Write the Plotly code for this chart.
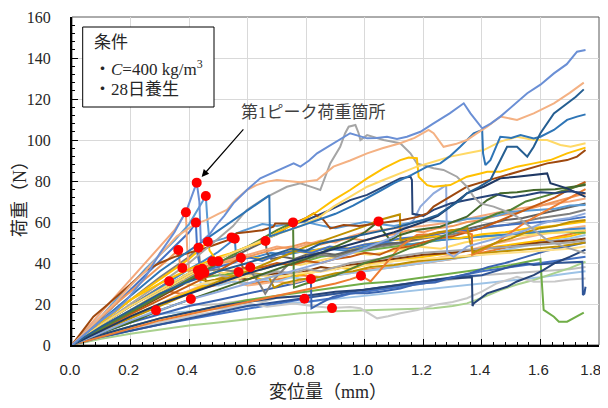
import plotly.graph_objects as go

# ---------------- data: (displacement mm, load N) ----------------
S_A = [(0,0),(0.05,6),(0.1,12),(0.15,17),(0.187,22),(0.25,33),(0.3,44.7),(0.35,55),(0.392,65.9),(0.426,79.2),(0.435,70),(0.44,50.4),(0.47,54),(0.49,58),(0.52,63),(0.551,69.1),(0.6,76),(0.643,81.3),(0.7,85),(0.757,88.6),(0.78,87),(0.81,90),(0.837,93.5),(0.893,98.4),(0.95,103.3),(1.008,100.8),(1.04,101),(1.076,101.6),(1.11,100.5),(1.144,101.6),(1.19,104),(1.235,108.1),(1.29,113),(1.338,117.9),(1.361,113),(1.401,105.7),(1.43,108),(1.463,111.4),(1.51,117),(1.555,122.8),(1.6,127),(1.646,132.5),(1.69,137),(1.725,143.1),(1.754,143.9)]
S_B = [(0,0),(0.05,7),(0.1,14),(0.15,21),(0.2,29),(0.25,36),(0.3,44),(0.358,53),(0.42,59),(0.46,61),(0.5,64),(0.529,65.9),(0.56,71),(0.597,75.6),(0.63,78),(0.666,79.7),(0.7,80.5),(0.734,80.1),(0.78,79.4),(0.837,80.5),(0.893,87),(0.95,90),(1.008,93.5),(1.06,96),(1.121,98.4),(1.17,101),(1.218,104.9),(1.235,103.3),(1.269,96.7),(1.31,98),(1.349,100),(1.38,103),(1.418,106.5),(1.463,111.4),(1.52,109.8),(1.577,113),(1.646,117.9),(1.7,123),(1.748,128)]
S_C = [(0,0),(0.05,4.5),(0.1,9),(0.2,17),(0.3,25),(0.4,31),(0.5,36),(0.6,40),(0.7,44.5),(0.75,47),(0.8,46),(0.85,49.5),(0.9,51),(1.0,54),(1.1,57),(1.2,61),(1.25,63.5),(1.292,67.5),(1.32,70),(1.349,74),(1.39,77),(1.429,80.5),(1.452,87),(1.486,96.7),(1.52,96.7),(1.555,91.9),(1.577,96.7),(1.6,103.3),(1.646,113),(1.691,117.9),(1.72,121),(1.748,124.7)]
S_D = [(0,0),(0.05,6),(0.1,12),(0.15,18),(0.2,24),(0.25,30),(0.3,36),(0.35,41),(0.4,46),(0.45,51),(0.5,56),(0.54,60),(0.6,66),(0.64,70),(0.674,73),(0.676,53),(0.72,55),(0.78,58),(0.84,61),(0.9,64),(0.96,68),(1.0,71),(1.05,75),(1.1,79),(1.16,83),(1.213,87),(1.258,88.6),(1.29,92),(1.326,96.7),(1.372,103.3),(1.401,104.9),(1.404,93.5),(1.412,87.8),(1.429,90.2),(1.463,101.6),(1.5,101),(1.532,102.4),(1.577,100.8),(1.6,101.6),(1.646,104.9),(1.691,109.8),(1.725,111.4),(1.754,112.5)]
S_E = [(0,0),(0.05,5),(0.1,10),(0.2,19),(0.3,27),(0.4,35),(0.5,42),(0.6,48),(0.7,54),(0.78,58),(0.848,62.6),(0.893,67.5),(0.95,72.3),(1.008,77.2),(1.064,80.5),(1.121,83.7),(1.178,87),(1.235,89.4),(1.292,91.9),(1.349,93.5),(1.406,95.1),(1.463,99.2),(1.52,101.6),(1.577,100),(1.623,100),(1.668,97.6),(1.703,96.7),(1.754,98.4)]
S_F = [(0,0),(0.05,6),(0.1,12),(0.2,22),(0.3,30),(0.4,37),(0.5,43),(0.54,44.7),(0.6,48),(0.654,50.4),(0.7,55),(0.768,59.4),(0.837,65),(0.893,70.7),(0.95,75.6),(1.008,81.3),(1.064,86.2),(1.121,90.2),(1.15,91.5),(1.178,91.1),(1.184,82.1),(1.213,78),(1.235,77.2),(1.292,78),(1.349,82.1),(1.395,83.7),(1.418,84.5),(1.463,84.5),(1.52,87),(1.577,88.6),(1.634,90.2),(1.691,93.5),(1.754,96.3)]
S_G = [(0,0),(0.04,7.5),(0.073,13.8),(0.12,19.5),(0.164,25.2),(0.21,31),(0.255,36.6),(0.3,40),(0.35,43),(0.4,45),(0.45,47),(0.5,49.5),(0.53,51),(0.545,52.5),(0.563,54.5),(0.609,55.3),(0.65,56),(0.688,57.7),(0.694,59.3),(0.757,59.3),(0.8,62),(0.825,64.2),(0.859,61),(0.882,56.9),(0.928,58.5),(0.98,58),(1.03,59),(1.08,60),(1.13,61),(1.18,62.5),(1.213,64.2),(1.235,67.5),(1.292,72.3),(1.349,77.2),(1.406,79.7),(1.463,82.1),(1.52,84.5),(1.577,87),(1.623,88.6),(1.657,89.4),(1.691,90.2),(1.725,91.9),(1.754,95.1)]
S_H = [(0,0),(0.05,5),(0.1,10),(0.2,20),(0.3,30),(0.4,40),(0.5,52),(0.55,58),(0.597,65.9),(0.666,72.3),(0.734,77.2),(0.78,78.9),(0.82,77),(0.848,75.6),(0.882,88.6),(0.916,96.7),(0.933,103.3),(0.945,106.5),(0.968,107.3),(0.979,103.3),(0.985,100),(1.008,102.4),(1.064,100),(1.121,98.4),(1.156,93.5),(1.178,88.6),(1.235,86.2),(1.269,85.4),(1.315,82.1),(1.349,77.2),(1.372,72.3),(1.395,69.1),(1.44,67.5),(1.486,65),(1.52,62.6),(1.577,56.1),(1.623,51.2),(1.68,48),(1.754,44.7)]
S_I = [(0,0),(0.05,5),(0.1,10),(0.2,19),(0.3,27),(0.4,35),(0.5,42),(0.6,48),(0.7,54),(0.745,58.5),(0.802,61),(0.882,65.9),(0.95,70.7),(1.008,73.2),(1.064,77.2),(1.121,81.3),(1.156,82.1),(1.161,80.5),(1.163,64),(1.2,63),(1.235,65.9),(1.292,69),(1.349,70.7),(1.4,72),(1.45,73.5),(1.5,72),(1.55,73),(1.6,74.5),(1.65,74),(1.7,75),(1.754,74)]
S_J = [(0,0),(0.1,7),(0.2,14),(0.3,20),(0.4,25),(0.5,30),(0.6,35),(0.7,39),(0.8,43),(0.9,47),(1.0,51),(1.1,55),(1.2,60),(1.25,63),(1.292,67.5),(1.349,74),(1.406,77.2),(1.463,81.3),(1.52,82.1),(1.577,82.9),(1.623,83.7),(1.634,78.9),(1.691,76.4),(1.754,72.3)]
S_K = [(0,0),(0.1,6),(0.2,12),(0.3,17),(0.4,22),(0.5,26),(0.6,30),(0.7,34),(0.8,38),(0.9,42),(1.0,47),(1.1,53),(1.167,61),(1.19,67.5),(1.235,74),(1.269,77.2),(1.278,78),(1.281,45),(1.304,43),(1.349,48),(1.4,50),(1.45,52),(1.5,54),(1.55,56),(1.6,59),(1.65,61),(1.7,62),(1.754,64.2)]
S_L = [(0,0),(0.1,5),(0.2,9),(0.3,13),(0.4,16),(0.5,19),(0.6,22),(0.7,24),(0.8,26),(0.9,28),(1.0,30),(1.1,31),(1.2,33),(1.3,35),(1.4,37),(1.45,38),(1.5,39),(1.55,40.5),(1.6,42),(1.605,30),(1.611,17.1),(1.646,13.8),(1.663,11.4),(1.691,11.4),(1.725,13.8),(1.748,15.8)]
S_M = [(0,0),(0.1,3),(0.2,5.5),(0.3,7.5),(0.4,9.5),(0.5,11),(0.6,12.5),(0.7,14),(0.78,15.5),(0.9,16.5),(1.008,17.1),(1.12,17.5),(1.235,17.9),(1.3,19),(1.349,20.3),(1.4,23),(1.463,26.8),(1.52,29.5),(1.577,31.7),(1.65,35),(1.7,37.5),(1.754,40.6)]
S_N = [(0,0),(0.1,4),(0.2,8),(0.3,11),(0.4,14),(0.5,16.5),(0.597,20.3),(0.666,18.7),(0.757,20.3),(0.82,19),(0.888,18),(0.95,18.5),(0.985,17.9),(1.042,13),(1.08,14),(1.121,15.5),(1.18,17),(1.235,19.5),(1.3,21),(1.349,22.8),(1.4,26),(1.45,30),(1.52,33.3),(1.577,30.9),(1.65,31),(1.7,32),(1.754,32.5)]
S_O = [(0,0),(0.1,4),(0.2,7),(0.3,10),(0.4,13),(0.5,16),(0.6,19),(0.7,21),(0.8,23),(0.9,25),(1.0,27),(1.1,29),(1.2,31),(1.3,33),(1.4,34),(1.463,36.6),(1.497,38.2),(1.555,39.8),(1.577,39),(1.65,40),(1.7,40.3),(1.743,40.6),(1.745,24.4),(1.75,25),(1.754,28.4)]
S_P = [(0,0),(0.1,6),(0.2,11),(0.3,15),(0.4,19),(0.5,22),(0.6,25),(0.7,28),(0.76,30),(0.816,32.2),(0.818,17.9),(0.848,20.3),(0.893,23.6),(0.95,25.2),(1.008,25.2),(1.053,26),(1.121,27.6),(1.18,30),(1.24,30.5),(1.3,33),(1.36,35),(1.42,38),(1.48,40),(1.55,43),(1.62,46),(1.69,48),(1.754,50)]
S_Q = [(0,0),(0.1,5),(0.2,9),(0.3,13),(0.4,16),(0.5,19),(0.6,21),(0.7,23),(0.8,24),(0.9,26),(1.0,27),(1.1,29),(1.2,31),(1.25,32),(1.3,32.5),(1.366,33),(1.368,19),(1.372,20.3),(1.418,25.2),(1.486,28.4),(1.52,31),(1.577,34.1),(1.611,36.6),(1.65,40),(1.7,43),(1.754,46.5)]
S_R = [(0,0),(0.1,7),(0.2,13),(0.3,19),(0.4,25),(0.5,31),(0.6,36),(0.7,42),(0.8,48),(0.9,53),(1.0,58),(1.05,61),(1.1,63),(1.12,63.7),(1.122,51),(1.15,52),(1.2,53),(1.25,55),(1.3,56),(1.35,57),(1.36,50),(1.37,45),(1.4,47),(1.45,50),(1.5,52),(1.55,55),(1.6,57),(1.65,58),(1.7,60),(1.754,61)]
S_S = [(0,0),(0.1,4),(0.2,8),(0.3,12),(0.4,15),(0.5,18),(0.6,21),(0.7,24),(0.8,27),(0.85,28.5),(0.9,30),(0.95,32),(0.987,33.8),(1.02,31),(1.05,36),(1.121,48),(1.178,53.7),(1.22,54),(1.26,55),(1.3,56),(1.34,55),(1.366,54),(1.367,44),(1.4,46),(1.45,50),(1.5,55),(1.55,60),(1.6,64),(1.65,68),(1.7,72),(1.754,76)]
S_L2 = [(0,0),(0.05,7),(0.1,14),(0.15,22),(0.2,29),(0.25,37),(0.3,44),(0.35,51),(0.4,59),(0.43,66),(0.457,72.7),(0.462,62),(0.47,50),(0.52,52),(0.58,55.5),(0.65,59),(0.7,58),(0.75,59.5),(0.8,60),(0.86,58),(0.9,57),(0.95,58.5),(1.0,60),(1.05,59),(1.1,58),(1.15,59.5),(1.2,61),(1.25,60.5),(1.3,60),(1.35,61.5),(1.4,62),(1.45,63),(1.5,65),(1.55,65.5),(1.6,66),(1.65,66.5),(1.7,68),(1.754,68.3)]
S_V = [(0,0),(0.05,8),(0.1,16),(0.15,24),(0.2,32),(0.25,40),(0.3,48),(0.35,56),(0.389,64.7),(0.393,48),(0.4,36),(0.45,37),(0.5,40),(0.55,42),(0.6,44),(0.65,46),(0.7,48),(0.75,47),(0.8,49),(0.85,51),(0.9,50),(0.95,53),(1.0,55),(1.1,57),(1.2,58),(1.3,60),(1.4,63),(1.5,66),(1.6,68),(1.7,70),(1.754,71.5)]
S_BL = [(0,0),(0.05,7),(0.1,13),(0.15,20),(0.2,27),(0.25,34),(0.3,41),(0.35,48),(0.4,55),(0.423,59.7),(0.428,45),(0.44,36),(0.5,38),(0.55,40),(0.6,43),(0.65,41),(0.7,44),(0.76,46),(0.82,45),(0.88,48),(0.94,47),(1.0,49),(1.06,50),(1.12,52),(1.2,53),(1.28,55),(1.36,56),(1.44,58),(1.52,59),(1.6,60),(1.68,61),(1.754,62.5)]
S_Z = [(0,0),(0.05,5.5),(0.1,11),(0.15,16.5),(0.2,22),(0.25,27),(0.3,32),(0.35,37),(0.4,42),(0.44,47),(0.464,50.4),(0.47,46),(0.5,40),(0.55,41),(0.6,43),(0.65,42),(0.7,44),(0.75,46),(0.8,45),(0.85,47),(0.9,48),(0.95,47),(1.0,49),(1.08,51),(1.16,52),(1.24,53),(1.32,52),(1.4,54),(1.48,55),(1.56,57),(1.64,58),(1.7,59),(1.754,60.2)]
S_U = [(0,0),(0.05,7),(0.1,13.5),(0.15,20),(0.2,26),(0.25,32),(0.3,38),(0.33,42),(0.363,46.3),(0.37,38),(0.4,36),(0.45,38),(0.5,40),(0.55,41),(0.6,43),(0.65,45),(0.7,47),(0.75,48),(0.8,50),(0.85,49),(0.9,51),(0.95,52),(1.0,51),(1.05,53),(1.1,54),(1.15,56),(1.2,55),(1.25,57),(1.3,58),(1.35,60),(1.4,61),(1.45,63),(1.5,64),(1.55,66),(1.6,68),(1.65,70),(1.7,72),(1.754,74)]
S_AE = [(0,0),(0.05,5.5),(0.1,11),(0.15,16.5),(0.2,22),(0.25,27.5),(0.3,33),(0.35,38),(0.4,43),(0.432,47.5),(0.437,40),(0.45,36),(0.5,37),(0.55,36),(0.6,38),(0.64,30),(0.66,25),(0.69,32),(0.75,41),(0.8,42),(0.85,44),(0.9,43),(0.95,45),(1.0,47),(1.1,49),(1.2,52),(1.3,54),(1.4,57),(1.5,59),(1.6,62),(1.7,64),(1.754,66)]
S_AF = [(0,0),(0.05,5),(0.1,10),(0.15,14.5),(0.2,19),(0.25,23.5),(0.3,28),(0.35,32.5),(0.4,37),(0.45,41),(0.5,45.5),(0.556,51.8),(0.56,44),(0.58,42),(0.63,43),(0.68,45),(0.73,44),(0.8,46),(0.87,47),(0.94,46),(1.0,48),(1.08,50),(1.16,49),(1.24,51),(1.32,52),(1.4,53),(1.48,54),(1.56,55),(1.64,56),(1.7,56.5),(1.754,57)]
S_AG = [(0,0),(0.05,4),(0.1,8),(0.15,12),(0.2,16),(0.25,20),(0.3,24),(0.35,28),(0.4,32),(0.45,36),(0.5,39.5),(0.55,43),(0.6,46.5),(0.661,50.7),(0.666,45),(0.68,42),(0.72,43),(0.76,42),(0.8,44),(0.85,45),(0.9,44),(0.95,46),(1.0,47),(1.06,49),(1.12,50),(1.18,52),(1.24,54),(1.3,56),(1.36,57),(1.42,59),(1.48,61),(1.54,62),(1.6,64),(1.66,66),(1.72,68),(1.754,69)]
S_AD = [(0,0),(0.05,4),(0.1,8),(0.15,12),(0.2,16),(0.25,20),(0.3,24),(0.35,28),(0.4,32),(0.45,36),(0.5,40),(0.55,44),(0.6,48),(0.65,52),(0.7,56),(0.755,59.8),(0.758,28),(0.8,30),(0.85,32),(0.9,34),(0.95,37),(1.0,40),(1.05,42),(1.1,44),(1.15,47),(1.2,49),(1.25,52),(1.3,55),(1.35,58),(1.4,61),(1.45,64),(1.5,66),(1.55,70),(1.6,72),(1.65,74),(1.7,76),(1.754,78.5)]
S_AH = [(0,0),(0.05,4.5),(0.1,9),(0.15,13),(0.2,17),(0.25,21.5),(0.3,26),(0.35,30),(0.4,34),(0.45,38),(0.479,40.8),(0.485,36),(0.52,35),(0.56,37),(0.6,36),(0.66,38),(0.72,40),(0.78,39),(0.84,41),(0.9,43),(0.96,45),(1.02,44),(1.1,46),(1.18,48),(1.26,47),(1.34,50),(1.42,52),(1.5,53),(1.58,54),(1.66,55),(1.754,56)]
S_AI = [(0,0),(0.05,4),(0.1,8.5),(0.15,12.5),(0.2,16.5),(0.25,20.5),(0.3,24.5),(0.35,28.5),(0.4,32.5),(0.45,36.5),(0.5,40.8),(0.505,34),(0.54,33),(0.6,35),(0.65,34),(0.7,36),(0.75,35),(0.8,37),(0.85,36),(0.9,38),(0.95,40),(1.0,41),(1.1,43),(1.2,45),(1.3,46),(1.4,47),(1.5,48),(1.6,49),(1.7,50),(1.754,51)]
S_T = [(0,0),(0.05,4),(0.1,8),(0.15,11.5),(0.2,15),(0.25,18.5),(0.3,22),(0.35,25.5),(0.4,29),(0.45,32.5),(0.5,36),(0.577,42.6),(0.582,38),(0.6,37),(0.65,38),(0.7,40),(0.75,39),(0.8,41),(0.85,40),(0.9,42),(0.95,43),(1.0,45),(1.05,44),(1.1,47),(1.15,48),(1.2,50),(1.25,52),(1.3,53),(1.35,55),(1.4,57),(1.45,60),(1.5,63),(1.55,66),(1.6,69),(1.65,72),(1.7,76),(1.754,79.5)]
S_AJ = [(0,0),(0.05,5),(0.1,10),(0.15,15),(0.2,20),(0.25,25),(0.3,30),(0.35,35),(0.377,37.6),(0.383,30),(0.42,29),(0.48,31),(0.55,32),(0.62,34),(0.7,33),(0.78,35),(0.86,36),(0.94,38),(1.02,39),(1.1,41),(1.2,42),(1.3,43),(1.4,44),(1.5,45),(1.6,46),(1.7,47),(1.754,48)]
S_AK = [(0,0),(0.05,4.2),(0.1,8.4),(0.15,12.6),(0.2,16.8),(0.25,21),(0.3,25),(0.35,29),(0.4,33),(0.43,36.5),(0.435,32),(0.47,31),(0.52,33),(0.57,34),(0.62,35),(0.67,34),(0.69,28),(0.72,30),(0.78,32),(0.84,33),(0.9,35),(0.96,36),(1.02,38),(1.1,39),(1.18,41),(1.26,42),(1.34,43),(1.42,45),(1.5,46),(1.58,47),(1.66,48),(1.754,50)]
S_AL = [(0,0),(0.05,4),(0.1,8),(0.15,12.5),(0.2,16.5),(0.25,20.5),(0.3,25),(0.35,29),(0.4,33),(0.445,37.2),(0.45,33),(0.5,34),(0.55,35),(0.6,36),(0.65,37),(0.7,39),(0.75,40),(0.8,41),(0.85,43),(0.9,44),(0.95,45),(1.0,46),(1.1,48),(1.2,50),(1.3,52),(1.4,53),(1.5,54),(1.6,55),(1.7,55),(1.754,54.8)]
S_AM = [(0,0),(0.05,4),(0.1,8),(0.15,12),(0.2,16),(0.25,20),(0.3,23.5),(0.35,27.5),(0.4,31),(0.435,34),(0.44,30),(0.5,29),(0.55,31),(0.6,30),(0.65,32),(0.7,31),(0.75,33),(0.8,32),(0.9,34),(1.0,36),(1.1,38),(1.2,40),(1.3,42),(1.4,44),(1.5,47),(1.6,50),(1.7,52),(1.754,53.7)]
S_AN = [(0,0),(0.05,4),(0.1,7.8),(0.15,11.7),(0.2,15.6),(0.25,19.5),(0.3,23.4),(0.35,27.3),(0.4,31.2),(0.452,35.3),(0.457,31),(0.5,32),(0.55,33),(0.6,32),(0.65,34),(0.7,35),(0.75,34),(0.8,36),(0.85,38),(0.9,37),(0.95,39),(1.0,40),(1.1,42),(1.2,44),(1.3,45),(1.4,47),(1.5,48),(1.6,50),(1.7,51),(1.754,52)]
S_AO = [(0,0),(0.05,3.5),(0.1,7),(0.15,10),(0.2,13.5),(0.25,17),(0.3,20),(0.35,23.5),(0.4,26.5),(0.45,29.5),(0.5,32.5),(0.569,35.6),(0.574,30),(0.6,29),(0.65,30),(0.7,31),(0.75,30),(0.8,32),(0.85,33),(0.9,34),(1.0,36),(1.1,38),(1.2,41),(1.3,44),(1.4,48),(1.5,51),(1.6,54),(1.7,57),(1.754,58)]
S_AP = [(0,0),(0.05,3.5),(0.1,7),(0.15,10.5),(0.2,14),(0.25,17),(0.3,20),(0.35,23),(0.4,26),(0.45,29),(0.5,32),(0.55,35),(0.609,37.9),(0.615,33),(0.65,32),(0.7,34),(0.75,33),(0.8,35),(0.85,36),(0.9,38),(0.95,37),(1.0,39),(1.1,41),(1.2,43),(1.3,45),(1.4,47),(1.5,49),(1.6,51),(1.7,53),(1.754,55)]
S_AQ = [(0,0),(0.05,5),(0.1,10),(0.15,14.5),(0.2,19),(0.25,23.5),(0.3,28),(0.332,31.1),(0.337,26),(0.37,25),(0.42,27),(0.48,29),(0.55,31),(0.62,30),(0.7,32),(0.78,34),(0.86,33),(0.94,35),(1.02,37),(1.1,38),(1.2,40),(1.3,42),(1.4,45),(1.5,48),(1.6,51),(1.7,54),(1.754,56)]
S_AR = [(0,0),(0.05,3),(0.1,6),(0.15,9),(0.2,11.5),(0.25,14),(0.3,16.5),(0.35,19.5),(0.406,22.4),(0.41,20),(0.45,19.5),(0.5,20),(0.55,21),(0.6,22),(0.65,21),(0.7,23),(0.8,24),(0.9,25),(1.0,27),(1.1,28),(1.2,30),(1.3,32),(1.4,34),(1.5,35),(1.6,36),(1.7,37),(1.754,38)]
S_AS = [(0,0),(0.05,3),(0.1,6),(0.15,9),(0.2,11.5),(0.25,14.5),(0.287,16.9),(0.292,15),(0.33,15.5),(0.4,16.5),(0.5,18),(0.6,19),(0.7,20),(0.8,21),(0.9,22.5),(1.0,24),(1.1,25.5),(1.2,27),(1.3,28.5),(1.4,30),(1.5,31.5),(1.6,33),(1.7,35),(1.754,36)]
S_AT = [(0,0),(0.1,3.5),(0.2,7),(0.3,10),(0.4,12.5),(0.5,15),(0.6,17.5),(0.7,20),(0.794,22.6),(0.8,21),(0.85,22),(0.9,23),(0.95,25),(1.0,26),(1.1,28),(1.2,30),(1.3,33),(1.4,36),(1.5,38),(1.6,40),(1.7,42),(1.754,43)]
S_AC = [(0,0),(0.1,6),(0.2,11),(0.3,17),(0.4,22),(0.5,27),(0.6,32),(0.7,37),(0.8,42),(0.9,48),(0.95,51),(1.0,55),(1.047,60.3),(1.06,56),(1.087,51.2),(1.121,53.7),(1.178,56.1),(1.258,57.7),(1.3,60),(1.349,62.6),(1.418,70.7),(1.463,74),(1.52,74.5),(1.577,75.6),(1.65,76),(1.7,77),(1.754,78)]

# first-peak load points
PEAK_X = [0.426,0.457,0.389,0.423,0.464,0.363,0.432,0.545,0.556,0.661,0.755,0.479,0.500,0.577,0.377,0.430,0.445,0.435,0.452,0.569,0.609,0.332,0.406,0.287,0.816,0.794,1.047,0.987,0.888]
PEAK_Y = [79.2,72.7,64.7,59.7,50.4,46.3,47.5,52.5,51.8,50.7,59.8,40.8,40.8,42.6,37.6,36.5,37.2,34.0,35.3,35.6,37.9,31.1,22.4,16.9,32.2,22.6,60.3,33.8,18.0]

X_TICKS = [0.0,0.2,0.4,0.6,0.8,1.0,1.2,1.4,1.6,1.8]
X_TICK_LABELS = ["0.0","0.2","0.4","0.6","0.8","1.0","1.2","1.4","1.6","1.8\u00a0\u00a0\u00a0"]
Y_TICKS = [0,20,40,60,80,100,120,140,160]

# drawing order (back to front) and colours
SERIES = [S_AS,S_AR,S_AT,S_M,S_N,S_L,S_O,S_Q,S_P,S_AQ,S_AO,S_AP,S_AM,S_AN,S_AL,S_AK,S_AJ,S_AI,S_AH,
          S_AF,S_AE,S_AG,S_Z,S_BL,S_V,S_U,S_L2,S_T,S_S,S_R,S_AD,S_AC,S_K,S_J,S_I,S_G,S_H,S_F,S_E,S_D,S_C,S_B,S_A]
COLORS = ["#9DC3E6","#BFBFBF","#4472C4","#A9D18E","#C9C9C9","#70AD47","#2F5597","#264478","#3A64B0","#ED7D31","#F4B183","#FFC000","#9DC3E6","#843C0C","#70AD47","#BF9000","#FFE08A","#A5A5A5","#FFD966",
          "#3F85C8","#7F7F7F","#636363","#FFC000","#4472C4","#F4A77A","#F1975A","#5B9BD5","#C55A11","#ED7D31","#BF9000","#548235","#43682B","#8FAADC","#1F3864","#264478","#9E480E","#A5A5A5","#FFC000","#FFD966","#2E75B6","#255E91","#F4B183","#6A8FD5"]

fig = go.Figure()
for pts, col in zip(SERIES, COLORS):
    fig.add_trace(go.Scatter(x=[p[0] for p in pts], y=[p[1] for p in pts], mode="lines",
                             line=dict(color=col, width=2), showlegend=False, hoverinfo="skip"))
fig.add_trace(go.Scatter(x=PEAK_X, y=PEAK_Y, mode="markers",
                         marker=dict(color="#FF0000", size=10, line=dict(width=0)),
                         showlegend=False, hoverinfo="skip"))

# page body has an 8px default margin: the figure is drawn at (8, 8)
OFF = 8
FIG_W, FIG_H = 608 - OFF, 408 - OFF
PLOT_L, PLOT_R, PLOT_T, PLOT_B = 72, 599, 17, 345      # plot area in window pixels
PW, PH = PLOT_R - PLOT_L, PLOT_B - PLOT_T
def px(xp):
    return (xp - PLOT_L) / PW
def py(yp):
    return (PLOT_B - yp) / PH

serif = "Liberation Serif, 'Noto Sans CJK JP', serif"
fig.update_layout(
    width=FIG_W, height=FIG_H,
    margin=dict(l=PLOT_L - OFF, r=OFF + FIG_W - PLOT_R, t=PLOT_T - OFF, b=OFF + FIG_H - PLOT_B, autoexpand=False),
    plot_bgcolor="white", paper_bgcolor="white", hovermode=False,
    xaxis=dict(range=[0, 1.8], tickvals=X_TICKS, ticktext=X_TICK_LABELS,
               automargin=False, ticklabeloverflow="allow", ticklabelshift=-2,
               showgrid=True, gridcolor="#D9D9D9", gridwidth=1, zeroline=False,
               showline=True, linecolor="black", linewidth=2,
               ticks="inside", ticklen=6, tickcolor="black", tickwidth=1,
               minor=dict(dtick=0.04, tick0=0, ticks="inside", ticklen=3, tickcolor="black", showgrid=False),
               ticklabelstandoff=10,
               tickfont=dict(family="Liberation Sans, Arial, sans-serif", size=15, color="#262626")),
    yaxis=dict(range=[0, 160], tickvals=Y_TICKS,
               automargin=False, ticklabeloverflow="allow",
               showgrid=True, gridcolor="#D9D9D9", gridwidth=1, zeroline=False,
               showline=True, linecolor="black", linewidth=2,
               ticks="inside", ticklen=6, tickcolor="black", tickwidth=1,
               minor=dict(dtick=4, tick0=0, ticks="inside", ticklen=3, tickcolor="black", showgrid=False),
               ticklabelstandoff=16,
               tickfont=dict(family="Liberation Serif, 'Times New Roman', serif", size=16, color="#262626")),
    shapes=[
        dict(type="rect", xref="paper", yref="paper", x0=0, y0=0, x1=1, y1=1,
             line=dict(color="#595959", width=1), layer="below"),
        dict(type="rect", xref="paper", yref="paper", x0=px(82.7), y0=py(107), x1=px(214), y1=py(27),
             line=dict(color="black", width=1), fillcolor="white", layer="above"),
    ],
    annotations=[
        dict(xref="paper", yref="paper", x=px(20), y=py(195), text="荷重（N）", textangle=-90,
             showarrow=False, xanchor="center", yanchor="middle",
             font=dict(family=serif, size=18, color="#262626")),
        dict(xref="paper", yref="paper", x=px(328), y=py(392), text="変位量（mm）",
             showarrow=False, xanchor="center", yanchor="middle",
             font=dict(family=serif, size=18, color="#262626")),
        dict(xref="paper", yref="paper", x=px(92), y=py(43), text="条件",
             showarrow=False, xanchor="left", yanchor="middle",
             font=dict(family=serif, size=17, color="#262626")),
        dict(xref="paper", yref="paper", x=px(92), y=py(68), text="・<i>C</i>=400 kg/m<sup>3</sup>",
             showarrow=False, xanchor="left", yanchor="middle",
             font=dict(family=serif, size=17, color="#262626")),
        dict(xref="paper", yref="paper", x=px(92), y=py(90), text="・28日養生",
             showarrow=False, xanchor="left", yanchor="middle",
             font=dict(family=serif, size=17, color="#262626")),
        dict(xref="paper", yref="paper", x=px(313), y=py(112), text="第1ピーク荷重箇所",
             showarrow=False, xanchor="center", yanchor="middle",
             font=dict(family=serif, size=17, color="#404040")),
        dict(x=0.443, y=82.0, xref="x", yref="y", text="", showarrow=True,
             ax=43, ay=-49, arrowhead=2, arrowsize=1.2, arrowwidth=1.2, arrowcolor="black", standoff=0),
    ],
)

fig.write_html("out.html")
